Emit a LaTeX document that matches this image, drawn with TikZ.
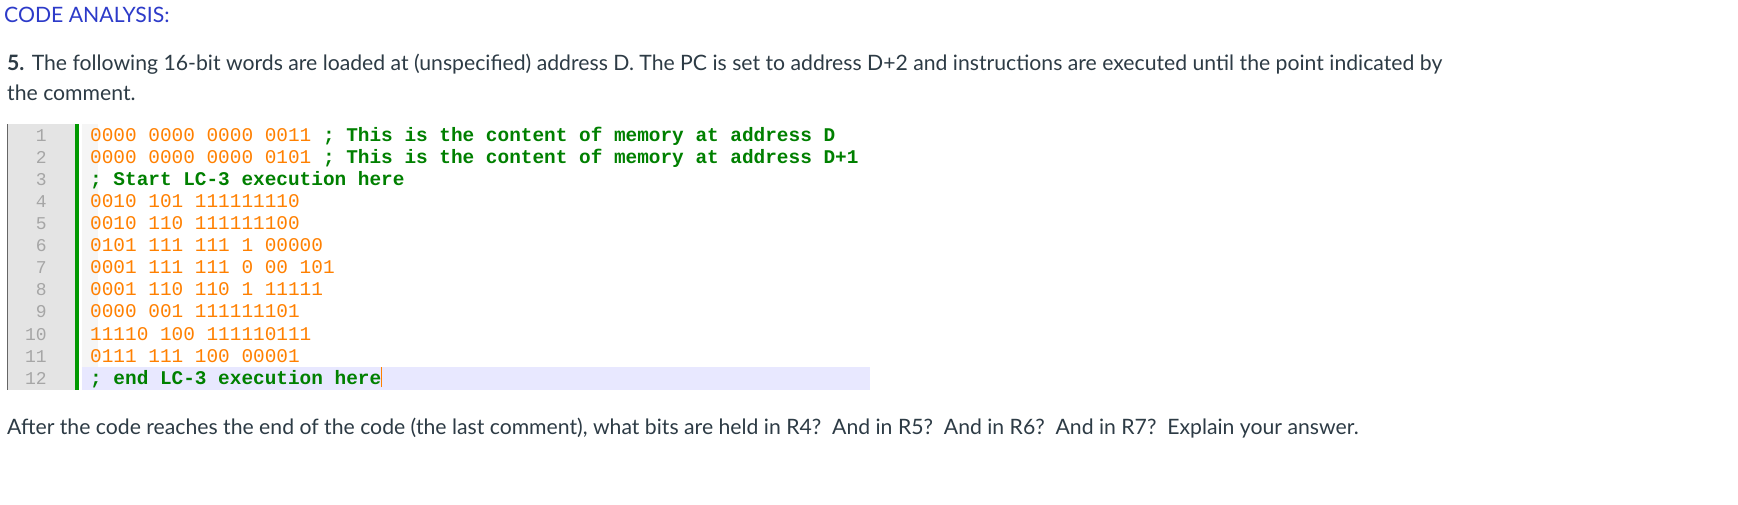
\documentclass[tikz,border=0pt]{standalone}
\usepackage{fontspec}
\setmainfont{Lato}
\newfontfamily\codefont{Liberation Mono}
\definecolor{ttl}{HTML}{2D3BC9}
\definecolor{txt}{HTML}{2D3B45}
\definecolor{org}{HTML}{FF8000}
\definecolor{grn}{HTML}{008000}
\definecolor{gut}{HTML}{E4E4E4}
\definecolor{hl}{HTML}{E8E8FF}
\begin{document}
\begin{tikzpicture}[x=1pt,y=-1pt,
  body/.style={anchor=base west,inner sep=0,font=\fontsize{21.2}{24}\selectfont,text=txt},
  num/.style={anchor=base east,inner sep=0,font=\codefont\fontsize{18}{20}\selectfont,text=gray!70},
  code/.style={anchor=base west,inner sep=0,font=\codefont\fontsize{19.4}{20}\selectfont,text=org}]
\fill[white] (0,0) rectangle (1738,504);
\node[body,text=ttl] (t) at (4,22) {CODE ANALYSIS:};
\node[body] (p1) at (7,70) {\textbf{5.} The following 16-bit words are loaded at (unspecified) address D. The PC is set to address D+2 and instructions are executed until the point indicated by};
\node[body] (p2) at (7,100) {the comment.};
\fill[gut] (7,124) rectangle (75,390);
\draw[gray!80!black,line width=1.5] (7.5,124) -- (7.5,390);
\fill[gray!8] (82,124) rectangle (98,390);
\fill[hl] (82,367) rectangle (870,390);
\fill[green!60!black] (75,124) rectangle (79,390);
\foreach \i/\c in {1/{0000 0000 0000 0011 \textcolor{grn}{\bfseries; This is the content of memory at address D}},
2/{0000 0000 0000 0101 \textcolor{grn}{\bfseries; This is the content of memory at address D+1}},
3/{\textcolor{grn}{\bfseries; Start LC-3 execution here}},
4/{0010 101 111111110},5/{0010 110 111111100},6/{0101 111 111 1 00000},
7/{0001 111 111 0 00 101},8/{0001 110 110 1 11111},9/{0000 001 111111101},
10/{11110 100 111110111},11/{0111 111 100 00001},
12/{\textcolor{grn}{\bfseries; end LC-3 execution here}\rule[-3pt]{1pt}{20pt}}}{
  \node[num] (n\i) at (47, {119+22.1*\i}) {\i};
  \node[code] (c\i) at (90, {119+22.1*\i}) {\c};
}
\node[body] (q) at (7,434) {After the code reaches the end of the code (the last comment), what bits are held in R4?\ \ And in R5?\ \ And in R6?\ \ And in R7?\ \ Explain your answer.};
\pgfresetboundingbox
\useasboundingbox (0,0) rectangle (1738,504);
\end{tikzpicture}
\end{document}
